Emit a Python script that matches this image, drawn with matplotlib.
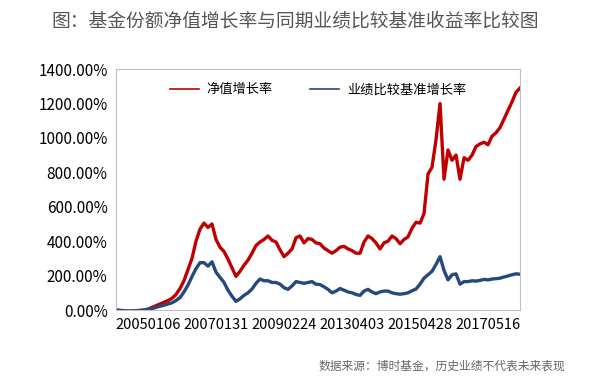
import matplotlib
matplotlib.use("Agg")
import matplotlib.pyplot as plt
import numpy as np

plt.rcParams['font.family'] = ['Noto Sans CJK SC', 'DejaVu Sans']

# growth (%), evenly spaced samples from start to end
nav_growth = [0, -3, -5, -8, -6, -4, -2, 0, 5, 15,
              25, 35, 45, 55, 68, 90, 125, 170, 235, 300,
              400, 470, 505, 480, 500, 410, 365, 340, 295, 245,
              195, 225, 260, 290, 330, 375, 395, 410, 430, 405,
              395, 350, 310, 330, 355, 420, 430, 390, 415, 410,
              390, 385, 360, 345, 330, 345, 365, 370, 355, 345,
              330, 330, 395, 430, 415, 390, 355, 390, 400, 430,
              415, 385, 410, 425, 475, 510, 505, 560, 790, 830,
              990, 1200, 760, 930, 870, 900, 760, 885, 870, 900,
              950, 965, 975, 960, 1010, 1030, 1060, 1110, 1160, 1210,
              1265, 1290]
bench_growth = [0, -2, -4, -5, -6, -4, -3, -1, 3, 8,
                15, 22, 28, 35, 42, 55, 72, 105, 145, 195,
                240, 275, 275, 255, 280, 220, 190, 160, 115, 80,
                50, 65, 85, 100, 122, 155, 180, 170, 170, 160,
                160, 150, 130, 120, 140, 165, 160, 155, 160, 165,
                150, 148, 135, 120, 100, 110, 125, 115, 105, 100,
                90, 85, 110, 120, 105, 95, 105, 110, 110, 100,
                95, 92, 95, 100, 112, 122, 150, 185, 205, 225,
                265, 310, 230, 175, 205, 210, 150, 165, 165, 170,
                168, 172, 178, 175, 180, 182, 185, 192, 198, 205,
                210, 208]
tick_pos = [8, 25, 42, 59, 76, 93]
tick_labels = ['20050106', '20070131', '20090224', '20130403', '20150428', '20170516']

x = np.arange(len(nav_growth))

fig = plt.figure(figsize=(5.9, 3.88), dpi=100)
ax = fig.add_axes([0.1966, 0.201, 0.6848, 0.621])

ax.plot(x, nav_growth, color='#c00000', lw=2.4, label='净值增长率')
ax.plot(x, bench_growth, color='#24497a', lw=2.4, label='业绩比较基准增长率')

ax.set_xlim(0, len(x) - 1)
ax.set_ylim(0, 1400)
ax.set_yticks(np.arange(0, 1401, 200))
ax.set_yticklabels([f'{v:.2f}%' for v in range(0, 1401, 200)], fontsize=11)
ax.set_xticks(tick_pos)
ax.set_xticklabels(tick_labels, fontsize=10.5)
ax.tick_params(length=0, pad=6)
for s in ax.spines.values():
    s.set_color('#bfbfbf')
    s.set_linewidth(0.8)

leg = ax.legend(loc='upper center', bbox_to_anchor=(0.5, 0.99), ncol=2, frameon=False,
                fontsize=9.5, handlelength=2.2, handletextpad=0.6, columnspacing=2.8)
for ln in leg.get_lines():
    ln.set_linewidth(1.2)

fig.text(0.5, 0.945, '图：基金份额净值增长率与同期业绩比较基准收益率比较图',
         ha='center', va='center', fontsize=13.5, color='#555555')
fig.text(0.958, 0.057, '数据来源：博时基金，历史业绩不代表未来表现',
         ha='right', va='center', fontsize=8.5, color='#666666')

fig.savefig('out.png', dpi=100)
